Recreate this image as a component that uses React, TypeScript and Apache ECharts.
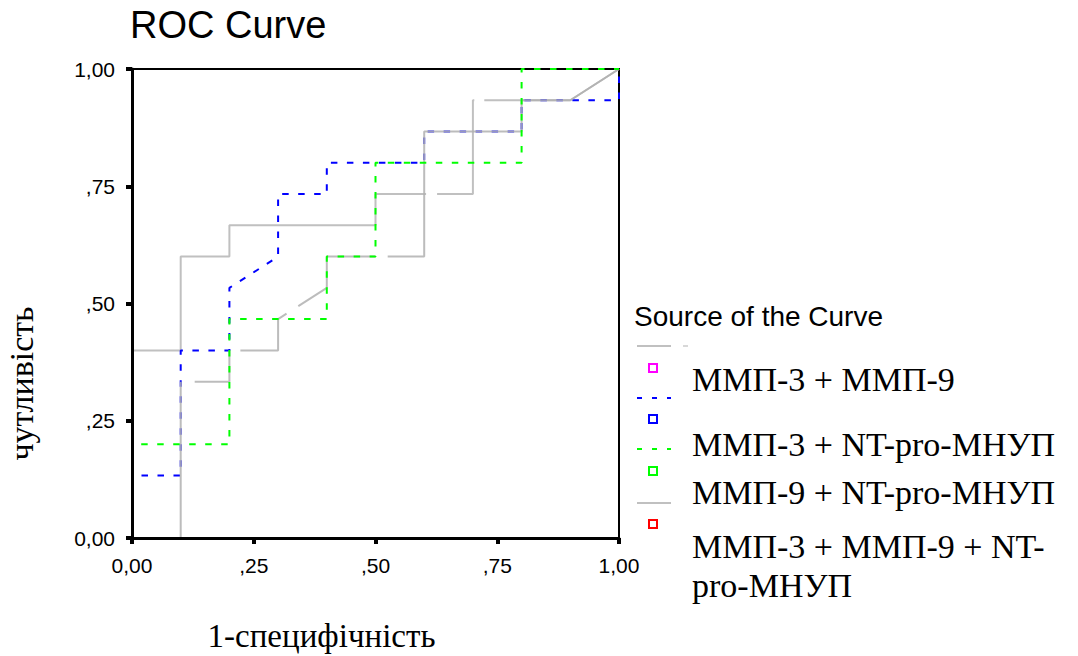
import React, { useEffect, useRef } from "react";
import * as echarts from "echarts";

const curveNames = [
  "ММП-3 + ММП-9",
  "ММП-3 + NT-pro-МНУП",
  "ММП-9 + NT-pro-МНУП",
  "ММП-3 + ММП-9 + NT-pro-МНУП",
];

// ROC points: 1 - specificity (x) and sensitivity (y)
const fprA = [0, 0.1, 0.1, 0.2, 0.2, 0.3, 0.3, 0.4, 0.4, 0.6, 0.6, 0.8, 0.8, 0.9, 1];
const tprA = [0, 0, 0.3333, 0.3333, 0.4, 0.4, 0.4667, 0.5333, 0.6, 0.6, 0.8667, 0.8667, 0.9333, 0.9333, 1];

const fprB = [0, 0, 0.1, 0.1, 0.2, 0.2, 0.3, 0.3, 0.4, 0.4, 0.6, 0.6, 0.8, 0.8, 1, 1];
const tprB = [0, 0.1333, 0.1333, 0.4, 0.4, 0.5333, 0.6, 0.7333, 0.7333, 0.8, 0.8, 0.8667, 0.8667, 0.9333, 0.9333, 1];

const fprC = [0, 0, 0.2, 0.2, 0.4, 0.4, 0.5, 0.5, 0.8, 0.8, 1];
const tprC = [0, 0.2, 0.2, 0.4667, 0.4667, 0.6, 0.6, 0.8, 0.8, 1, 1];

const fprD = [0, 0, 0.1, 0.1, 0.2, 0.2, 0.5, 0.5, 0.7, 0.7, 0.9, 1];
const tprD = [0, 0.4, 0.4, 0.6, 0.6, 0.6667, 0.6667, 0.7333, 0.7333, 0.9333, 0.9333, 1];

const tickValues = [0, 0.25, 0.5, 0.75, 1];
const tickLabels = ["0,00", ",25", ",50", ",75", "1,00"];

const titleText = "ROC Curve";
const xTitle = "1-специфічність";
const yTitle = "чутливість";
const legendTitle = "Source of the Curve";

const SANS = "'Liberation Sans', Arial, sans-serif";
const SERIF = "'Liberation Serif', 'Times New Roman', serif";

const zip = (xs: number[], ys: number[]) => xs.map((x, i) => [x, ys[i]]);

const fmt = (v: number) => {
  const i = tickValues.findIndex((t) => Math.abs(t - v) < 1e-9);
  return i >= 0 ? tickLabels[i] : "";
};

export default function App() {
  const ref = useRef<HTMLDivElement>(null);

  useEffect(() => {
    if (!ref.current) return;
    const chart = echarts.init(ref.current, undefined, { renderer: "svg" });

    const axisCommon = {
      type: "value" as const,
      min: 0,
      max: 1,
      interval: 0.25,
      z: 10,
      splitLine: { show: false },
      axisLine: { show: true, onZero: false, lineStyle: { color: "#000", width: 3 } },
      axisTick: { show: true, length: 6, lineStyle: { color: "#000", width: 4 } },
      axisLabel: {
        color: "#000",
        fontFamily: SANS,
        fontSize: 21,
        margin: 17,
        formatter: (v: number) => fmt(v),
      },
    };

    const legendLabelStyle = (text: string, y: number) => ({
      type: "text",
      x: 692,
      y,
      z: 100,
      style: { text, fill: "#000", fontFamily: SERIF, fontSize: 34, align: "left", verticalAlign: "middle" },
    });

    const square = (cy: number, color: string) => ({
      type: "rect",
      z: 100,
      shape: { x: 649, y: cy - 4, width: 8, height: 8 },
      style: { fill: "#fff", stroke: color, lineWidth: 2 },
    });

    const legendLine = (y: number, color: string, dash?: number[]) => ({
      type: "line",
      z: 100,
      shape: { x1: 637, y1: y, x2: 671, y2: y },
      style: { stroke: color, lineWidth: 2, lineDash: dash },
    });

    chart.setOption({
      animation: false,
      backgroundColor: "#fff",
      grid: {
        left: 132,
        top: 69,
        width: 487,
        height: 469,
        show: true,
        borderColor: "#000",
        borderWidth: 2,
        backgroundColor: "transparent",
      },
      xAxis: { ...axisCommon },
      yAxis: { ...axisCommon },
      series: [
        {
          name: curveNames[3],
          type: "line",
          data: zip(fprD, tprD),
          symbol: "none",
          z: 2,
          lineStyle: { color: "#c0c0c0", width: 2, type: [638, 11, 131, 10, 2000, 0] },
        },
        {
          name: curveNames[1],
          type: "line",
          data: zip(fprB, tprB),
          symbol: "none",
          z: 3,
          lineStyle: { color: "#0000ff", width: 2, type: [6.5, 9.5], dashOffset: 7.8 },
        },
        {
          name: curveNames[0],
          type: "line",
          data: zip(fprA, tprA),
          symbol: "none",
          z: 4,
          lineStyle: {
            color: "#b0b0b0",
            width: 2,
            opacity: 0.85,
            type: [205, 14, 66, 11, 79, 14, 114, 12, 2000, 0],
          },
        },
        {
          name: curveNames[2],
          type: "line",
          data: zip(fprC, tprC),
          symbol: "none",
          z: 5,
          lineStyle: { color: "#00ff00", width: 2, type: [6.5, 9.5], dashOffset: 8.5 },
        },
      ],
      graphic: [
        {
          type: "text",
          x: 130,
          y: 25,
          z: 100,
          style: { text: titleText, fill: "#000", fontFamily: SANS, fontSize: 38, align: "left", verticalAlign: "middle" },
        },
        {
          type: "text",
          x: 321.5,
          y: 636,
          z: 100,
          style: {
            text: xTitle,
            fill: "#000",
            fontFamily: SERIF,
            fontSize: 33,
            align: "center",
            verticalAlign: "middle",
          },
        },
        {
          type: "text",
          x: 21.5,
          y: 383.5,
          rotation: Math.PI / 2,
          z: 100,
          style: { text: yTitle, fill: "#000", fontFamily: SERIF, fontSize: 34, align: "center", verticalAlign: "middle" },
        },
        {
          type: "text",
          x: 634,
          y: 316,
          z: 100,
          style: { text: legendTitle, fill: "#000", fontFamily: SANS, fontSize: 28, align: "left", verticalAlign: "middle" },
        },
        legendLine(346, "#c0c0c0"),
        {
          type: "line",
          z: 100,
          shape: { x1: 683, y1: 346, x2: 688, y2: 346 },
          style: { stroke: "#d8d8d8", lineWidth: 2 },
        },
        square(368, "#ff00ff"),
        legendLabelStyle(curveNames[0], 379.5),
        legendLine(398, "#0000ff", [5, 10]),
        square(419, "#0000ff"),
        legendLabelStyle(curveNames[1], 444.5),
        legendLine(449, "#00ff00", [5, 10]),
        square(471, "#00ff00"),
        legendLabelStyle(curveNames[2], 492.5),
        legendLine(503, "#c0c0c0"),
        square(524, "#ff0000"),
        legendLabelStyle("ММП-3 + ММП-9 + NT-", 546),
        legendLabelStyle("pro-МНУП", 585),
      ],
    });

    return () => chart.dispose();
  }, []);

  return (
    <div
      ref={ref}
      style={{ position: "absolute", left: 0, top: 0, width: 1078, height: 656, background: "#fff" }}
    />
  );
}
